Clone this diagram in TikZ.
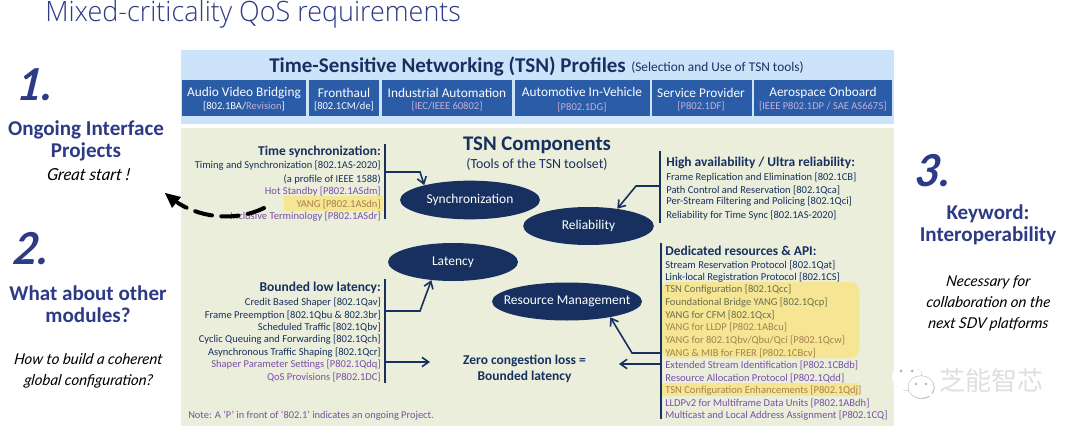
\documentclass[tikz,border=0pt]{standalone}
\usepackage{fontspec}
\setmainfont{Carlito}
\newfontfamily\titlefont[FakeStretch=0.963]{Open Sans Light}
\newfontfamily\handfont[FakeSlant=0.12]{Lato Italic}
\newfontfamily\cjkmark{Noto Sans CJK SC}
\usetikzlibrary{shapes.geometric,arrows.meta}
\definecolor{navy}{HTML}{17305F}
\definecolor{inkblue}{HTML}{2D3A85}
\definecolor{project}{HTML}{7A4FA5}
\definecolor{skyband}{HTML}{CDE3FA}
\definecolor{sageband}{HTML}{EAEEDB}
\definecolor{profilebox}{HTML}{2B5CA8}
\definecolor{marker}{HTML}{F6E593}
\definecolor{olive}{HTML}{69704F}
\definecolor{amber}{HTML}{A5824F}
\tikzset{
  x=0.75pt,y=-0.75pt,
  lineitem/.style={inner sep=0pt,yshift=-0.8pt,font=\fontsize{7.9pt}{10pt}\selectfont},
  leftcol/.style={lineitem,anchor=east},
  rightcol/.style={lineitem,anchor=west},
  heading/.style={inner sep=0pt,yshift=-0.8pt,font=\fontsize{10.1pt}{12pt}\selectfont\bfseries,text=navy},
  component/.style={ellipse,fill=navy,text=white,inner sep=0pt,font=\fontsize{10.1pt}{12pt}\selectfont},
  bar/.style={draw=navy,line width=1.2pt},
  link/.style={draw=navy,line width=1.2pt,-{Straight Barb[length=5pt,width=7pt,line width=1.2pt]}},
  profile/.style={fill=profilebox,draw=none,inner sep=0pt},
  pname/.style={inner sep=0pt,yshift=-0.6pt,text=white!90!skyband,font=\fontsize{10pt}{12pt}\selectfont},
  pref/.style={inner sep=0pt,yshift=-0.6pt,font=\fontsize{7.9pt}{10pt}\selectfont},
  sidehead/.style={inner sep=0pt,align=center,text=inkblue,font=\fontsize{15.8pt}{16.4pt}\selectfont\bfseries},
  sidenote/.style={inner sep=0pt,align=center,text=black,font=\fontsize{11.2pt}{16pt}\handfont},
  numeral/.style={inner sep=0pt,text=inkblue,font=\fontsize{33pt}{36pt}\handfont\bfseries},
}
\begin{document}
\begin{tikzpicture}
\useasboundingbox (0,0) rectangle (1080,431);
\fill[white] (0,0) rectangle (1080,431);

% Slide heading
\node[inner sep=0pt,anchor=west,text=inkblue,font=\fontsize{21pt}{24pt}\titlefont] (slidetitle) at (45,14) {Mixed-criticality QoS requirements};

% Background bands
\fill[skyband] (181,50) rectangle (894,124);
\fill[sageband] (181,128) rectangle (894,426);

% Profiles band
\node[inner sep=0pt,anchor=west,text=navy,font=\fontsize{15.75pt}{18pt}\selectfont\bfseries] (proftitle) at (269,66) {Time-Sensitive Networking (TSN) Profiles};
\node[inner sep=0pt,anchor=west,text=navy,font=\fontsize{10pt}{12pt}\selectfont] (profsub) at (631,68) {(Selection and Use of TSN tools)};

\fill[profile] (182,80) rectangle (306,116);
\fill[profile] (309,80) rectangle (379,116);
\fill[profile] (382,80) rectangle (512,116);
\fill[profile] (515,80) rectangle (650,116);
\fill[profile] (652,80) rectangle (752,116);
\fill[profile] (754,80) rectangle (892,116);

\node[pname] (avb) at (244,92) {Audio Video Bridging};
\node[pref,text=white!85!skyband] (avbref) at (244,106) {[802.1BA/\textcolor{white!55!project}{Revision}]};
\node[pname] (fronthaul) at (344,92) {Fronthaul};
\node[pref,text=white!85!skyband] (fronthaulref) at (344,106) {[802.1CM/de]};
\node[pname] (industrial) at (447,92) {Industrial Automation};
\node[pref,text=white!55!project] (industrialref) at (447,106) {[IEC/IEEE 60802]};
\node[pname] (automotive) at (582,91) {Automotive In-Vehicle};
\node[pref,text=white!55!project] (automotiveref) at (582,107) {[P802.1DG]};
\node[pname] (service) at (701,92) {Service Provider};
\node[pref,text=white!55!project] (serviceref) at (701,106) {[P802.1DF]};
\node[pname] (aerospace) at (823,92) {Aerospace Onboard};
\node[pref,text=white!55!project] (aerospaceref) at (823,106) {[IEEE P802.1DP / SAE AS6675]};

% Components title
\node[inner sep=0pt,text=navy,font=\fontsize{15.6pt}{18pt}\selectfont\bfseries] (comptitle) at (537,145) {TSN Components};
\node[inner sep=0pt,text=navy,font=\fontsize{10.4pt}{12pt}\selectfont] (compsub) at (537,164) {(Tools of the TSN toolset)};

% Highlight markers
\fill[marker] (284,196) rectangle (383,211);
\fill[marker,rounded corners=6pt] (662,282) rectangle (859,358);
\fill[marker] (662,383) rectangle (859,396);

% Time synchronization list
\node[heading,anchor=east] (tshead) at (381,151) {Time synchronization:};
\node[leftcol,text=navy] (ts1) at (381,165) {Timing and Synchronization [802.1AS-2020]};
\node[leftcol,text=navy] (ts2) at (381,178) {(a profile of IEEE 1588)};
\node[leftcol,text=project] (ts3) at (381,190.5) {Hot Standby [P802.1ASdm]};
\node[leftcol,text=amber] (ts4) at (381,203) {YANG [P802.1ASdn]};
\node[leftcol,text=project] (ts5) at (381,216) {Inclusive Terminology [P802.1ASdr]};

% Reliability list
\node[heading,anchor=west] (relhead) at (666,162) {High availability / Ultra reliability:};
\node[rightcol,text=navy] (rel1) at (666,176.5) {Frame Replication and Elimination [802.1CB]};
\node[rightcol,text=navy] (rel2) at (666,189) {Path Control and Reservation [802.1Qca]};
\node[rightcol,text=navy] (rel3) at (666,201) {Per-Stream Filtering and Policing [802.1Qci]};
\node[rightcol,text=navy] (rel4) at (666,214) {Reliability for Time Sync [802.1AS-2020]};

% Latency list
\node[heading,anchor=east] (lathead) at (381,287) {Bounded low latency:};
\node[leftcol,text=navy] (lat1) at (381,301.5) {Credit Based Shaper [802.1Qav]};
\node[leftcol,text=navy] (lat2) at (381,314) {Frame Preemption [802.1Qbu \& 802.3br]};
\node[leftcol,text=navy] (lat3) at (381,326.5) {Scheduled Traffic [802.1Qbv]};
\node[leftcol,text=navy] (lat4) at (381,339) {Cyclic Queuing and Forwarding [802.1Qch]};
\node[leftcol,text=navy] (lat5) at (381,351.5) {Asynchronous Traffic Shaping [802.1Qcr]};
\node[leftcol,text=project] (lat6) at (381,364) {Shaper Parameter Settings [P802.1Qdq]};
\node[leftcol,text=project] (lat7) at (381,376.5) {QoS Provisions [P802.1DC]};

% Resources list
\node[heading,anchor=west] (reshead) at (665,250) {Dedicated resources \& API:};
\node[rightcol,text=navy] (res1) at (665,264) {Stream Reservation Protocol [802.1Qat]};
\node[rightcol,text=navy] (res2) at (665,277) {Link-local Registration Protocol [802.1CS]};
\node[rightcol,text=olive] (res3) at (665,289) {TSN Configuration [802.1Qcc]};
\node[rightcol,text=olive] (res4) at (665,301.7) {Foundational Bridge YANG [802.1Qcp]};
\node[rightcol,text=olive] (res5) at (665,314) {YANG for CFM [802.1Qcx]};
\node[rightcol,text=amber] (res6) at (665,326.7) {YANG for LLDP [P802.1ABcu]};
\node[rightcol,text=amber] (res7) at (665,339.5) {YANG for 802.1Qbv/Qbu/Qci [P802.1Qcw]};
\node[rightcol,text=amber] (res8) at (665,352) {YANG \& MIB for FRER [P802.1CBcv]};
\node[rightcol,text=project] (res9) at (665,364.7) {Extended Stream Identification [P802.1CBdb]};
\node[rightcol,text=project] (res10) at (665,377) {Resource Allocation Protocol [P802.1Qdd]};
\node[rightcol,text=amber] (res11) at (665,389.7) {TSN Configuration Enhancements [P802.1Qdj]};
\node[rightcol,text=project] (res12) at (665,402) {LLDPv2 for Multiframe Data Units [P802.1ABdh]};
\node[rightcol,text=project] (res13) at (665,415) {Multicast and Local Address Assignment [P802.1CQ]};

% Component ellipses
\node[component,minimum width=105pt,minimum height=29pt] (sync) at (470,200) {Synchronization};
\node[component,minimum width=98pt,minimum height=28.5pt] (rely) at (588.5,226) {Reliability};
\node[component,minimum width=97.5pt,minimum height=28.5pt] (laten) at (453,262) {Latency};
\node[component,minimum width=112.5pt,minimum height=28.5pt] (resman) at (567,301.5) {\makebox[0pt][c]{Resource Management}};

\node[inner sep=0pt,align=center,text=navy,font=\fontsize{10.1pt}{12pt}\selectfont\bfseries] (zero) at (524.5,369) {Zero congestion loss =\\Bounded latency};
\node[inner sep=0pt,anchor=west,text=project,font=\fontsize{7.8pt}{10pt}\selectfont] (note) at (188,416) {Note: A ‘P’ in front of ‘802.1’ indicates an ongoing Project.};

% List rules and the anchors where connectors leave them
\coordinate (tstop) at (385,144);
\coordinate (tsbot) at (385,219);
\coordinate (tsout) at (385,172);
\coordinate (reltop) at (660,151);
\coordinate (relbot) at (660,223);
\coordinate (relout) at (660,186);
\coordinate (lattop) at (385,279);
\coordinate (latbot) at (385,383);
\coordinate (latout) at (385,311);
\coordinate (zeroout) at (385,362);
\coordinate (zerotipl) at (430,362);
\coordinate (restop) at (661,243);
\coordinate (resbot) at (661,419);
\coordinate (resout) at (661,353);
\coordinate (zeroin) at (661,364);
\coordinate (zerotipr) at (619,364);
\draw[bar] (tstop) -- (tsbot);
\draw[bar] (reltop) -- (relbot);
\draw[bar] (lattop) -- (latbot);
\draw[bar] (restop) -- (resbot);

% Connectors
\draw[link] (tsout) -- (420,172) -- (sync.162);
\draw[link] (relout) -- (636,186) -- (rely.31);
\draw[link] (latout) -- (420,311) -- (laten.220);
\draw[link] (zeroout) -- (zerotipl);
\draw[link] (resout) -- (632,353) -- (resman.340);
\draw[link] (zeroin) -- (zerotipr);

% Left column
\node[numeral] (numone) at (34,85) {1.};
\node[sidehead] (headone) at (86,140.5) {Ongoing Interface\\Projects};
\node[sidenote,font=\fontsize{12.4pt}{16pt}\handfont] (noteone) at (88,175) {Great start !};
\node[numeral] (numtwo) at (30,249) {2.};
\node[sidehead] (headtwo) at (88,304) {What about other\\modules?};
\node[sidenote] (notetwo) at (88,371) {How to build a coherent\\global configuration?};

% Right column
\node[numeral] (numthree) at (932,171) {3.};
\node[sidehead] (headthree) at (988,225) {Keyword:\\Interoperability};
\node[sidenote] (notethree) at (988,303.5) {Necessary for\\collaboration on the\\next SDV platforms};

% Hand-drawn dashed pointer out of the YANG line
\coordinate (pointerstart) at (264,208);
\coordinate (pointertip) at (165,193);
\draw[black,line width=3pt,dash pattern=on 13pt off 7pt,line cap=round]
  (pointerstart) .. controls (240,220) and (205,220) .. (178,203);
\fill[black] (pointertip) -- (181,197) -- (172,208) -- cycle;

% Account mark
\fill[gray!45] (907.8,377.8) ellipse (11.25pt and 9.75pt);
\fill[gray!45] (921.8,387.8) ellipse (9.75pt and 8.5pt);
\fill[white] (907,377) ellipse (11.25pt and 9.75pt);
\fill[white] (897,387) -- (895,396) -- (904,390) -- cycle;
\fill[white] (921,387) ellipse (9.75pt and 8.5pt);
\draw[gray!45,line width=0.4pt] (921,387) ellipse (9.75pt and 8.5pt);
\fill[white] (926,393) -- (933,399) -- (931,391) -- cycle;
\fill[gray!60] (901,371) circle (1.5) (912,371) circle (1.5) (916,384) circle (1.3) (926,384) circle (1.3);
\node[inner sep=0pt,anchor=west,text=gray!25,font=\fontsize{19.5pt}{22pt}\cjkmark] (mark) at (939.6,381) {芝能智芯};
\end{tikzpicture}
\end{document}
